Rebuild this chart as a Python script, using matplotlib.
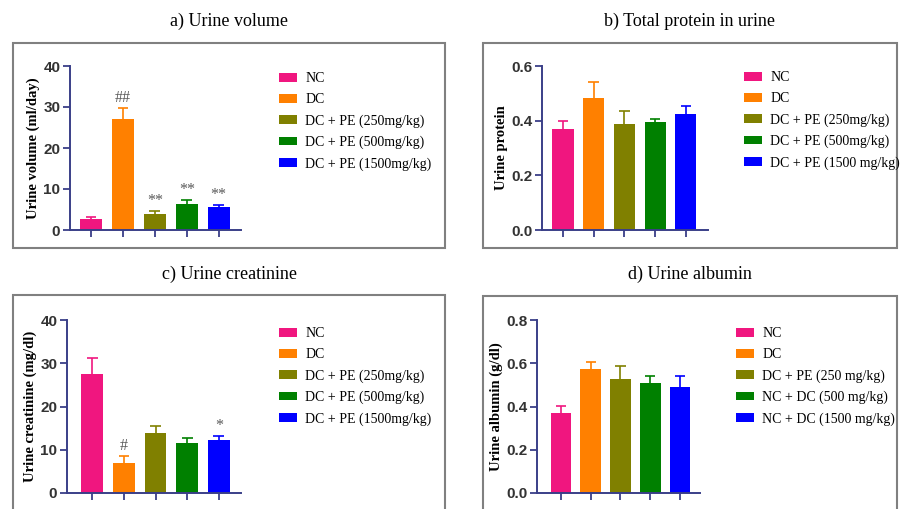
import matplotlib
matplotlib.use("Agg")
import matplotlib.pyplot as plt
from matplotlib.patches import Rectangle

# group colours (GraphPad style)
colors = ['#f0167f', '#ff8000', '#808000', '#008000', '#0000ff']

labels_a = ['NC', 'DC', 'DC + PE (250mg/kg)', 'DC + PE (500mg/kg)', 'DC + PE (1500mg/kg)']
labels_b = ['NC', 'DC', 'DC + PE (250mg/kg)', 'DC + PE (500mg/kg)', 'DC + PE (1500 mg/kg)']
labels_c = ['NC', 'DC', 'DC + PE (250mg/kg)', 'DC + PE (500mg/kg)', 'DC + PE (1500mg/kg)']
labels_d = ['NC', 'DC', 'DC + PE (250 mg/kg)', 'NC + DC (500 mg/kg)', 'NC + DC (1500 mg/kg)']

# a) urine volume (ml/day)
volume = [2.6, 27.0, 3.8, 6.4, 5.7]
volume_err = [0.5, 2.7, 0.9, 1.0, 0.4]
volume_sig = ['', '##', '**', '**', '**']

# b) total protein in urine
protein = [0.368, 0.483, 0.389, 0.394, 0.425]
protein_err = [0.030, 0.060, 0.045, 0.012, 0.030]

# c) urine creatinine (mg/dl)
creat = [27.6, 7.0, 13.9, 11.5, 12.2]
creat_err = [3.6, 1.5, 1.7, 1.3, 0.9]
creat_sig = ['', '#', '', '', '*']

# d) urine albumin (g/dl)
albumin = [0.370, 0.572, 0.525, 0.508, 0.491]
albumin_err = [0.034, 0.033, 0.060, 0.032, 0.049]

W, H = 901, 509
navy = '#3a3f88'
serif = 'Liberation Serif'
sans = 'Liberation Sans'

fig = plt.figure(figsize=(W / 100, H / 100), dpi=100)


def fx(px):
    return px / W


def fy(py):
    return 1 - py / H


def panel(rect, vals, errs, ymax, yticks, ylabel, labels, leg_xy, xlim, sig=None, fmt='{:.0f}'):
    # rect in pixel coords: left, top, right, bottom
    l, t, r, b = rect
    ax = fig.add_axes([fx(l), fy(b), fx(r - l), (b - t) / H])
    x = list(range(len(vals)))
    bars = ax.bar(x, vals, width=0.69, color=colors, zorder=2)
    # upper error bars only
    tops = [v + e for v, e in zip(vals, errs)]
    ax.vlines(x, vals, tops, colors=colors, linewidth=1.2, zorder=1)
    ax.hlines(tops, [i - 0.17 for i in x], [i + 0.17 for i in x], colors=colors, linewidth=1.2, zorder=1)
    if sig:
        for i, s in enumerate(sig):
            if s:
                ax.annotate(s, (i, tops[i]), xytext=(0, 1.5), textcoords='offset points',
                            ha='center', va='bottom', fontsize=11.5, color='#5a5a5a',
                            family=serif)
    ax.set_xlim(*xlim)
    ax.set_ylim(0, ymax)
    ax.set_yticks(yticks)
    ax.set_yticklabels([fmt.format(v) for v in yticks], fontsize=11, fontweight='bold',
                       family=sans, color='#333333')
    ax.set_xticks(x)
    ax.set_xticklabels([])
    ax.tick_params(axis='both', color=navy, width=1.3, length=5, direction='out', pad=2)
    for s in ['top', 'right']:
        ax.spines[s].set_visible(False)
    for s in ['left', 'bottom']:
        ax.spines[s].set_color(navy)
        ax.spines[s].set_linewidth(1.4)
    ax.set_ylabel(ylabel, fontsize=10.5, fontweight='bold', family=serif, labelpad=2)
    fig.legend(bars, labels, loc='upper left', bbox_to_anchor=(fx(leg_xy[0]), fy(leg_xy[1])),
               frameon=False, prop={'family': serif, 'size': 10}, handlelength=1.3,
               handleheight=0.6, labelspacing=0.58, handletextpad=0.6,
               borderpad=0, borderaxespad=0)
    return ax


# grey frames round each panel
for fl, ft, fr, fb in [(13, 43, 445, 248), (483, 43, 897, 248), (13, 295, 445, 530), (483, 296, 897, 530)]:
    fig.patches.append(Rectangle((fx(fl), fy(fb)), fx(fr - fl), (fb - ft) / H, transform=fig.transFigure,
                                 fill=False, edgecolor='#808080', linewidth=1.5))

panel((70, 66, 241, 230), volume, volume_err, 40, [0, 10, 20, 30, 40], 'Urine volume (ml/day)',
      labels_a, (279, 72), (-0.66, 4.7), sig=volume_sig)
panel((542, 66, 708, 230), protein, protein_err, 0.6, [0.0, 0.2, 0.4, 0.6], 'Urine protein',
      labels_b, (744, 71), (-0.68, 4.72), fmt='{:.1f}')
panel((67, 320, 241, 493), creat, creat_err, 40, [0, 10, 20, 30, 40], 'Urine creatinine (mg/dl)',
      labels_c, (279, 327), (-0.8, 4.7), sig=creat_sig)
panel((537, 320, 700, 493), albumin, albumin_err, 0.8, [0.0, 0.2, 0.4, 0.6, 0.8], 'Urine albumin (g/dl)',
      labels_d, (736, 327), (-0.8, 4.67), fmt='{:.1f}')

titles = ['a) Urine volume', 'b) Total protein in urine', 'c) Urine creatinine', 'd) Urine albumin']
for txt, (tx, ty) in zip(titles, [(229, 21), (690, 21), (229, 274), (690, 274)]):
    fig.text(fx(tx), fy(ty), txt, ha='center', va='center', fontsize=13, family=serif)

fig.savefig('out.png', dpi=100)
